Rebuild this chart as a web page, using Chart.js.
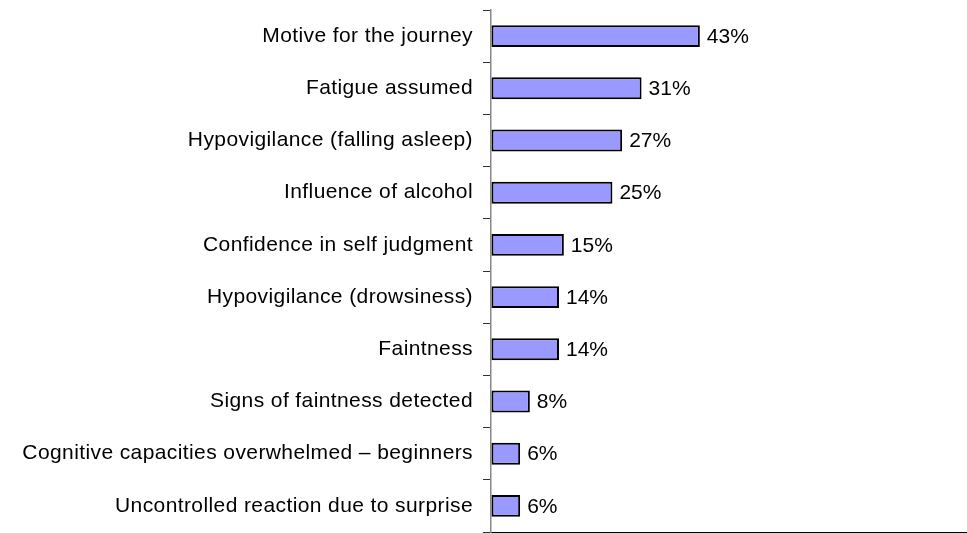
<!DOCTYPE html>
<html>
<head>
<meta charset="utf-8">
<script src="https://cdn.jsdelivr.net/npm/chart.js@4/dist/chart.umd.min.js"></script>
<style>
  html, body { margin: 0; padding: 0; background: #fff; }
  #wrap { width: 967px; height: 533px; }
</style>
</head>
<body>
<div id="wrap"><canvas id="factors-chart"></canvas></div>
<script>
// Factors, top to bottom
const categories = [
  'Motive for the journey',
  'Fatigue assumed',
  'Hypovigilance (falling asleep)',
  'Influence of alcohol',
  'Confidence in self judgment',
  'Hypovigilance (drowsiness)',
  'Faintness',
  'Signs of faintness detected',
  'Cognitive capacities overwhelmed – beginners',
  'Uncontrolled reaction due to surprise'
];
// Share in percent
const shares = [43, 31, 27, 25, 15, 14, 14, 8, 6, 6];

const font_family = '"Liberation Sans", Arial, sans-serif';

// Slightly looser spacing for the category labels
const labelSpacing = {
  id: 'labelSpacing',
  beforeDraw(chart) {
    chart.ctx.letterSpacing = '0.4px';
  }
};

// Write the percentage just right of each bar
const valueLabels = {
  id: 'valueLabels',
  afterDatasetsDraw(chart) {
    const ctx = chart.ctx;
    const meta = chart.getDatasetMeta(0);
    ctx.save();
    ctx.letterSpacing = '0px';
    ctx.font = `21px ${font_family}`;
    ctx.fillStyle = '#000';
    ctx.textAlign = 'left';
    ctx.textBaseline = 'middle';
    meta.data.forEach((bar, i) => {
      ctx.fillText(shares[i] + '%', bar.x + 7, bar.y + 1);
    });
    ctx.restore();
  }
};

const ctx = document.getElementById('factors-chart');

const data = {
  labels: categories,
  datasets: [{
    data: shares,
    backgroundColor: '#9999FF',
    borderColor: '#000000',
    borderWidth: 2,
    borderSkipped: false,
    categoryPercentage: 1,
    barPercentage: 0.42
  }]
};

const config = {
  type: 'bar',
  data: data,
  options: {
    indexAxis: 'y',
    responsive: true,
    maintainAspectRatio: false,
    animation: false,
    layout: { padding: { top: 10, right: 0, bottom: 0, left: 0 } },
    plugins: {
      legend: { display: false },
      tooltip: { enabled: false }
    },
    scales: {
      x: {
        min: 0,
        max: 98,
        ticks: { display: false },
        grid: { drawOnChartArea: false, drawTicks: false },
        border: { color: '#000', width: 1 },
        afterFit: s => { s.height = 1; }
      },
      y: {
        ticks: {
          color: '#000',
          padding: 10,
          font: { family: font_family, size: 21 }
        },
        grid: {
          offset: true,
          drawOnChartArea: false,
          drawTicks: true,
          tickLength: 8,
          color: '#333'
        },
        border: { color: '#888', width: 1.5 },
        afterFit: s => {
          s.width = 491;
          // labels sit inside their rows, no extra room needed above/below
          s.paddingTop = 0;
          s.paddingBottom = 0;
        }
      }
    }
  },
  plugins: [labelSpacing, valueLabels]
};

var myChart = new Chart(ctx, config);
</script>
</body>
</html>
